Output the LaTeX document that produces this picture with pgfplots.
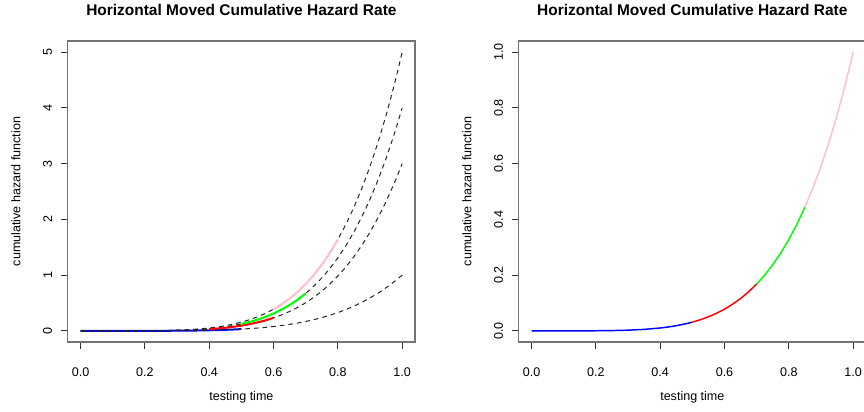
\documentclass[border=0pt]{standalone}
\usepackage{fontspec}
\setmainfont{Liberation Sans}
\usepackage{pgfplots}
\usepackage{pgfplotstable}
\pgfplotsset{compat=1.18}

% k * t^5 (k = 1, 3, 4, 5)
\pgfplotstableread{
x     y1      y3      y4      y5
0     0       0       0       0
0.1   0.00001 0.00003 0.00004 0.00005
0.2   0.00032 0.00096 0.00128 0.0016
0.25  0.00098 0.00293 0.00391 0.00488
0.3   0.00243 0.00729 0.00972 0.01215
0.35  0.00525 0.01576 0.02101 0.02626
0.4   0.01024 0.03072 0.04096 0.0512
0.425 0.01387 0.0416  0.05547 0.06933
0.45  0.01845 0.05536 0.07381 0.09226
0.475 0.02418 0.07254 0.09672 0.1209
0.5   0.03125 0.09375 0.125   0.15625
0.525 0.03988 0.11965 0.15954 0.19942
0.55  0.05033 0.15098 0.20131 0.25164
0.575 0.06286 0.18857 0.25142 0.31428
0.6   0.07776 0.23328 0.31104 0.3888
0.625 0.09537 0.2861  0.38147 0.47684
0.65  0.11603 0.34809 0.46413 0.58016
0.675 0.14013 0.42038 0.5605  0.70063
0.7   0.16807 0.50421 0.67228 0.84035
0.725 0.20031 0.60092 0.80122 1.00153
0.75  0.2373  0.7119  0.9492  1.1865
0.775 0.27958 0.83875 1.11833 1.39791
0.8   0.32768 0.98304 1.31072 1.6384
0.825 0.38218 1.14654 1.52873 1.91091
0.85  0.44371 1.33113 1.77484 2.21855
0.875 0.51291 1.53873 2.05164 2.56455
0.9   0.59049 1.77147 2.36196 2.95245
0.925 0.67719 2.03156 2.70875 3.38594
0.95  0.77378 2.32134 3.09513 3.86891
0.975 0.8811  2.6433  3.52438 4.40548
1     1       3       4       5
}\haz

\definecolor{rblue}{RGB}{0,0,255}
\definecolor{rred}{RGB}{255,0,0}
\definecolor{rgreen}{RGB}{0,255,0}
\definecolor{rpink}{RGB}{255,192,203}

\pgfplotsset{
  rbase/.style={
    scale only axis, anchor=south west,
    width=260.5pt, height=225.75pt,
    xmin=-0.04, xmax=1.04,
    axis line style={black!55, line width=1.1pt},
    tick style={black!80, line width=0.7pt},
    major tick length=5.25pt, tick align=outside,
    xtick pos=bottom, ytick pos=left,
    xtick={0,0.2,...,1.0},
    /pgf/number format/assume math mode=true,
    ticklabel style={font=\fontsize{9.4}{11}\selectfont},
    xticklabel style={yshift=-10.75pt, /pgf/number format/fixed, /pgf/number format/fixed zerofill, /pgf/number format/precision=1},
    yticklabel style={rotate=90, anchor=south, yshift=3pt},
    title style={at={(0.5,1)}, anchor=center, yshift=17.25pt, font=\fontsize{11.6}{13}\selectfont\bfseries},
    title={Horizontal Moved Cumulative Hazard Rate},
    xlabel={testing time}, ylabel={cumulative hazard function},
    label style={font=\fontsize{9.4}{11}\selectfont},
    xlabel style={at={(0.5,0)}, anchor=center, yshift=-41.6pt},
    ylabel style={at={(0,0.5)}, anchor=center, yshift=38.8pt},
    clip=true,
  },
}

\begin{document}
\begin{tikzpicture}
\begin{axis}[rbase, at={(50.8pt,51.75pt)},
  ymin=-0.2, ymax=5.2, ytick={0,1,...,5}]
\addplot[rblue, line width=1.5pt, restrict x to domain=0:0.5] table[x=x, y=y1] {\haz};
\addplot[black!85, line width=0.75pt, dash pattern=on 3.5pt off 3pt] table[x=x, y=y1] {\haz};
\addplot[black!85, line width=0.75pt, dash pattern=on 3.5pt off 3pt] table[x=x, y=y3] {\haz};
\addplot[black!85, line width=0.75pt, dash pattern=on 3.5pt off 3pt] table[x=x, y=y4] {\haz};
\addplot[black!85, line width=0.75pt, dash pattern=on 3.5pt off 3pt] table[x=x, y=y5] {\haz};
\addplot[rred, line width=1.5pt, restrict x to domain=0.4:0.6] table[x=x, y=y3] {\haz};
\addplot[rgreen, line width=1.5pt, restrict x to domain=0.5:0.7] table[x=x, y=y4] {\haz};
\addplot[rpink, line width=1.5pt, restrict x to domain=0.6:0.8] table[x=x, y=y5] {\haz};
\end{axis}
\begin{axis}[rbase, at={(389pt,51.75pt)},
  ymin=-0.04, ymax=1.04, ytick={0,0.2,...,1.0},
  yticklabel style={/pgf/number format/fixed, /pgf/number format/fixed zerofill, /pgf/number format/precision=1}]
\addplot[rblue, line width=1.1pt, restrict x to domain=0:0.5] table[x=x, y=y1] {\haz};
\addplot[rred, line width=1.1pt, restrict x to domain=0.5:0.7] table[x=x, y=y1] {\haz};
\addplot[rgreen, line width=1.1pt, restrict x to domain=0.7:0.85] table[x=x, y=y1] {\haz};
\addplot[rpink, line width=1.1pt, restrict x to domain=0.85:1] table[x=x, y=y1] {\haz};
\end{axis}
\pgfresetboundingbox
\useasboundingbox (0,0) rectangle (648pt,308.25pt);
\end{tikzpicture}
\end{document}
